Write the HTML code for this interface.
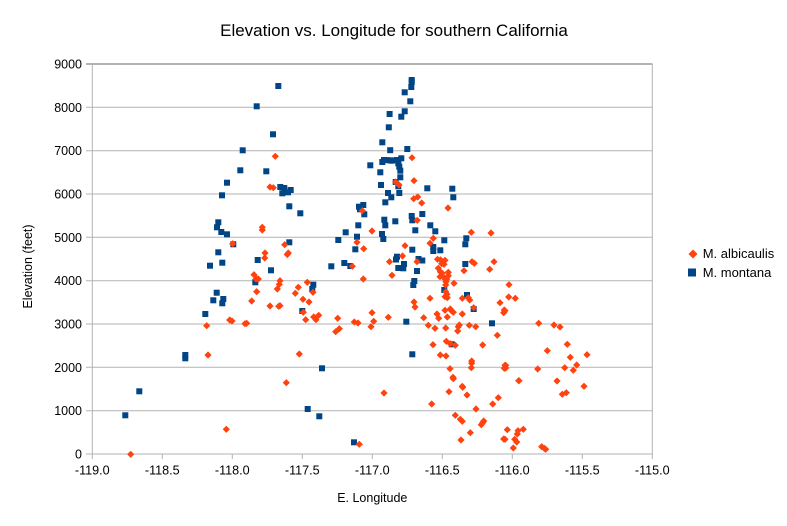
<!DOCTYPE html>
<html><head><meta charset="utf-8"><style>
html,body{margin:0;padding:0;background:#fff;}
svg{display:block;font-family:"Liberation Sans",Arial,sans-serif;}
</style></head><body>
<svg width="787" height="526" viewBox="0 0 787 526" xmlns="http://www.w3.org/2000/svg">
<defs>
<rect id="s" x="-3" y="-3" width="6" height="6" fill="#004586"/>
<polygon id="d" points="0,-3.6 3.6,0 0,3.6 -3.6,0" fill="#ff420e"/>
</defs>
<rect width="787" height="526" fill="#fff"/>
<text x="394" y="36" font-size="17" text-anchor="middle" fill="#000">Elevation vs. Longitude for southern California</text>
<g stroke="#b3b3b3" stroke-width="1">
<line x1="86" y1="64" x2="652.5" y2="64" stroke-width="2"/>
<line x1="86" y1="107.3" x2="652.5" y2="107.3"/>
<line x1="86" y1="150.7" x2="652.5" y2="150.7"/>
<line x1="86" y1="194" x2="652.5" y2="194"/>
<line x1="86" y1="237.3" x2="652.5" y2="237.3"/>
<line x1="86" y1="280.7" x2="652.5" y2="280.7"/>
<line x1="86" y1="324" x2="652.5" y2="324"/>
<line x1="86" y1="367.3" x2="652.5" y2="367.3"/>
<line x1="86" y1="410.7" x2="652.5" y2="410.7"/>
<line x1="86" y1="454" x2="652.5" y2="454"/>
<line x1="92.3" y1="64" x2="92.3" y2="459"/>
<line x1="652.3" y1="64" x2="652.3" y2="459"/>
<line x1="162.3" y1="454" x2="162.3" y2="459"/>
<line x1="232.3" y1="454" x2="232.3" y2="459"/>
<line x1="302.3" y1="454" x2="302.3" y2="459"/>
<line x1="372.3" y1="454" x2="372.3" y2="459"/>
<line x1="442.3" y1="454" x2="442.3" y2="459"/>
<line x1="512.3" y1="454" x2="512.3" y2="459"/>
<line x1="582.3" y1="454" x2="582.3" y2="459"/>
</g>
<g font-size="12.5" fill="#000" text-anchor="end">
<text x="82" y="68.5">9000</text>
<text x="82" y="111.8">8000</text>
<text x="82" y="155.2">7000</text>
<text x="82" y="198.5">6000</text>
<text x="82" y="241.8">5000</text>
<text x="82" y="285.2">4000</text>
<text x="82" y="328.5">3000</text>
<text x="82" y="371.8">2000</text>
<text x="82" y="415.2">1000</text>
<text x="82" y="458.5">0</text>
</g>
<g font-size="12.6" fill="#000" text-anchor="middle">
<text x="92.3" y="474.5">-119.0</text>
<text x="162.3" y="474.5">-118.5</text>
<text x="232.3" y="474.5">-118.0</text>
<text x="302.3" y="474.5">-117.5</text>
<text x="372.3" y="474.5">-117.0</text>
<text x="442.3" y="474.5">-116.5</text>
<text x="512.3" y="474.5">-116.0</text>
<text x="582.3" y="474.5">-115.5</text>
<text x="652.3" y="474.5">-115.0</text>
</g>
<text x="372.3" y="502" font-size="12.5" text-anchor="middle" fill="#000">E. Longitude</text>
<text transform="translate(32,266.5) rotate(-90)" font-size="12.5" text-anchor="middle" fill="#000">Elevation (feet)</text>

<g>
<use href="#s" x="125.3" y="415.3"/><use href="#s" x="139.3" y="391.3"/><use href="#s" x="185.3" y="355"/><use href="#s" x="185.3" y="358.3"/>
<use href="#s" x="205.3" y="314"/><use href="#s" x="210" y="265.7"/><use href="#s" x="213.3" y="300.3"/><use href="#s" x="216.7" y="292.7"/>
<use href="#s" x="218.3" y="222.3"/><use href="#s" x="217" y="227.3"/><use href="#s" x="218.3" y="252.3"/><use href="#s" x="221.3" y="232"/>
<use href="#s" x="222" y="195.3"/><use href="#s" x="222.3" y="262.7"/><use href="#s" x="223.3" y="299"/><use href="#s" x="222.3" y="303.3"/>
<use href="#s" x="227" y="234.3"/><use href="#s" x="227" y="182.7"/><use href="#s" x="233.3" y="244.3"/><use href="#s" x="240.3" y="170.3"/>
<use href="#s" x="242.7" y="150.3"/><use href="#s" x="256.7" y="106.3"/><use href="#s" x="255.3" y="282.3"/><use href="#s" x="257.7" y="260"/>
<use href="#s" x="278.3" y="86"/><use href="#s" x="273" y="134.3"/><use href="#s" x="266.3" y="171.3"/><use href="#s" x="280.3" y="187"/>
<use href="#s" x="284.3" y="188"/><use href="#s" x="282.3" y="193.3"/><use href="#s" x="288" y="192.3"/><use href="#s" x="290.7" y="190"/>
<use href="#s" x="289.3" y="206.3"/><use href="#s" x="300.3" y="213.3"/><use href="#s" x="359" y="206.7"/><use href="#s" x="363.3" y="205"/>
<use href="#s" x="360" y="209.3"/><use href="#s" x="364.3" y="214.3"/><use href="#s" x="384.3" y="219.7"/><use href="#s" x="385.3" y="225.3"/>
<use href="#s" x="358.3" y="225.3"/><use href="#s" x="345.7" y="232.3"/><use href="#s" x="382" y="234"/><use href="#s" x="383.3" y="239"/>
<use href="#s" x="357" y="236.7"/><use href="#s" x="338.3" y="240"/><use href="#s" x="289.3" y="242.3"/><use href="#s" x="355.3" y="249.3"/>
<use href="#s" x="370.3" y="165.3"/><use href="#s" x="380.3" y="172.3"/><use href="#s" x="381" y="185"/><use href="#s" x="388" y="193"/>
<use href="#s" x="385.3" y="202.3"/><use href="#s" x="382.3" y="142.3"/><use href="#s" x="388.8" y="127.3"/><use href="#s" x="389.6" y="114"/>
<use href="#s" x="390.2" y="150.2"/><use href="#s" x="382.3" y="162"/><use href="#s" x="384" y="160"/><use href="#s" x="387" y="160.2"/>
<use href="#s" x="271" y="270.3"/><use href="#s" x="331.3" y="266.3"/><use href="#s" x="344.3" y="263"/><use href="#s" x="350.3" y="266"/>
<use href="#s" x="313.3" y="284.7"/><use href="#s" x="312.3" y="289"/><use href="#s" x="302.3" y="311"/><use href="#s" x="322" y="368.3"/>
<use href="#s" x="307.7" y="409"/><use href="#s" x="319.3" y="416.3"/><use href="#s" x="354" y="442.3"/>
<use href="#s" x="411.7" y="80"/><use href="#s" x="411.7" y="82"/><use href="#s" x="411.3" y="87"/><use href="#s" x="404.7" y="92.3"/>
<use href="#s" x="410.3" y="101.3"/><use href="#s" x="404.7" y="111.3"/><use href="#s" x="401.3" y="116.7"/><use href="#s" x="407.3" y="149"/>
<use href="#s" x="390" y="160.3"/><use href="#s" x="391.7" y="160.7"/><use href="#s" x="396.7" y="160"/><use href="#s" x="398.3" y="160.7"/>
<use href="#s" x="401.3" y="158.3"/><use href="#s" x="398.3" y="163.3"/><use href="#s" x="399.3" y="166.7"/><use href="#s" x="400.3" y="170.7"/>
<use href="#s" x="400.3" y="177.3"/><use href="#s" x="395.7" y="182"/><use href="#s" x="398.3" y="186.3"/><use href="#s" x="427.3" y="188.3"/>
<use href="#s" x="452.3" y="188.7"/><use href="#s" x="391.3" y="197.3"/><use href="#s" x="399.3" y="193"/><use href="#s" x="453.3" y="197.3"/>
<use href="#s" x="411.7" y="216"/><use href="#s" x="412.3" y="220.3"/><use href="#s" x="422.3" y="214"/><use href="#s" x="395.3" y="221.3"/>
<use href="#s" x="430.3" y="225.3"/><use href="#s" x="435.3" y="231.3"/><use href="#s" x="415.3" y="230.3"/><use href="#s" x="444.3" y="240.3"/>
<use href="#s" x="466.3" y="238.3"/><use href="#s" x="465.3" y="244.3"/><use href="#s" x="433.3" y="247"/><use href="#s" x="433.3" y="251"/>
<use href="#s" x="440.3" y="250.3"/><use href="#s" x="412.3" y="249.7"/><use href="#s" x="397" y="256.7"/><use href="#s" x="396" y="259.5"/>
<use href="#s" x="418.5" y="259"/><use href="#s" x="422.3" y="260.5"/><use href="#s" x="404" y="264"/><use href="#s" x="398.3" y="268"/>
<use href="#s" x="403.3" y="268.3"/><use href="#s" x="417" y="271"/><use href="#s" x="465.3" y="264"/><use href="#s" x="414.3" y="281"/>
<use href="#s" x="413.3" y="285"/><use href="#s" x="444.3" y="290"/><use href="#s" x="467" y="295"/><use href="#s" x="473.7" y="309"/>
<use href="#s" x="406.3" y="321.7"/><use href="#s" x="492" y="323.3"/><use href="#s" x="451.7" y="344.3"/><use href="#s" x="412.3" y="354.3"/>
</g>
<g>
<use href="#d" x="130.7" y="454.3"/><use href="#d" x="206.7" y="325.7"/><use href="#d" x="208" y="355"/><use href="#d" x="226.3" y="429.3"/>
<use href="#d" x="229.7" y="320"/><use href="#d" x="232" y="321"/><use href="#d" x="232.7" y="243.7"/><use href="#d" x="245" y="323.7"/>
<use href="#d" x="246.7" y="323.3"/><use href="#d" x="251.7" y="301"/><use href="#d" x="254" y="274.7"/><use href="#d" x="256.7" y="278.7"/>
<use href="#d" x="258.3" y="279"/><use href="#d" x="256" y="279"/><use href="#d" x="256.7" y="291.7"/>
<use href="#d" x="275.3" y="156.3"/><use href="#d" x="270" y="187"/><use href="#d" x="273.3" y="187.7"/><use href="#d" x="362.3" y="210.7"/>
<use href="#d" x="262.3" y="227.3"/><use href="#d" x="262.3" y="230"/><use href="#d" x="372" y="231"/><use href="#d" x="357" y="242.3"/>
<use href="#d" x="284.7" y="244.7"/><use href="#d" x="363.7" y="248.7"/><use href="#d" x="265" y="253"/><use href="#d" x="287.3" y="254.5"/>
<use href="#d" x="288.3" y="253"/><use href="#d" x="264.7" y="258"/>
<use href="#d" x="352.3" y="266.3"/><use href="#d" x="389.5" y="261.7"/><use href="#d" x="280" y="280.7"/><use href="#d" x="279.3" y="284.3"/>
<use href="#d" x="277.3" y="289"/><use href="#d" x="307.3" y="282.3"/><use href="#d" x="298.3" y="287.3"/><use href="#d" x="295.3" y="293.3"/>
<use href="#d" x="313" y="292.3"/><use href="#d" x="303" y="299.3"/><use href="#d" x="309" y="302"/><use href="#d" x="363.3" y="279"/>
<use href="#d" x="270" y="306"/><use href="#d" x="278.7" y="306.3"/><use href="#d" x="280" y="305.7"/><use href="#d" x="303.3" y="312.3"/>
<use href="#d" x="313.7" y="317"/><use href="#d" x="316" y="319.7"/><use href="#d" x="318.7" y="315.3"/><use href="#d" x="305.7" y="319.7"/>
<use href="#d" x="337.7" y="318.3"/><use href="#d" x="372" y="312.7"/><use href="#d" x="388.3" y="317.3"/><use href="#d" x="373.7" y="321.3"/>
<use href="#d" x="354.3" y="322"/><use href="#d" x="358" y="323"/><use href="#d" x="371" y="326.7"/><use href="#d" x="339.3" y="328.7"/>
<use href="#d" x="335.7" y="331.7"/><use href="#d" x="299.3" y="354"/><use href="#d" x="286.3" y="382.7"/><use href="#d" x="384" y="393"/>
<use href="#d" x="359.3" y="444.3"/>
<use href="#d" x="412" y="157.7"/><use href="#d" x="414" y="180.7"/><use href="#d" x="395.7" y="182"/><use href="#d" x="399" y="185"/>
<use href="#d" x="417.7" y="197"/><use href="#d" x="413.7" y="198.7"/><use href="#d" x="421.7" y="203"/><use href="#d" x="448" y="208"/>
<use href="#d" x="417.3" y="220.3"/><use href="#d" x="471.3" y="232.3"/><use href="#d" x="491" y="233"/><use href="#d" x="433.3" y="238.3"/>
<use href="#d" x="430" y="243.3"/><use href="#d" x="405" y="245.7"/><use href="#d" x="402.5" y="256"/><use href="#d" x="437.5" y="259.3"/>
<use href="#d" x="440.5" y="259.8"/>
<use href="#d" x="417" y="261.7"/><use href="#d" x="441.7" y="263.7"/><use href="#d" x="444" y="264.3"/><use href="#d" x="445" y="260.3"/>
<use href="#d" x="438.3" y="268.3"/><use href="#d" x="440.3" y="271.7"/><use href="#d" x="442.3" y="273.3"/><use href="#d" x="440" y="276.7"/>
<use href="#d" x="443.3" y="277.3"/><use href="#d" x="448.3" y="272.3"/><use href="#d" x="448.3" y="275.7"/><use href="#d" x="446.7" y="279.3"/>
<use href="#d" x="446" y="281.7"/><use href="#d" x="445.7" y="285"/><use href="#d" x="472" y="261.7"/><use href="#d" x="474.3" y="263.3"/>
<use href="#d" x="494" y="261.7"/><use href="#d" x="464" y="270.7"/><use href="#d" x="489.7" y="269.3"/><use href="#d" x="392" y="275.3"/>
<use href="#d" x="454" y="283.3"/><use href="#d" x="509" y="284.7"/><use href="#d" x="445.7" y="291.7"/><use href="#d" x="447" y="294.3"/>
<use href="#d" x="445" y="296.7"/><use href="#d" x="447.3" y="297.7"/><use href="#d" x="430" y="298.3"/><use href="#d" x="462.3" y="298.3"/>
<use href="#d" x="468.3" y="297.7"/><use href="#d" x="469.7" y="300"/><use href="#d" x="508.7" y="297"/><use href="#d" x="515.3" y="298.3"/>
<use href="#d" x="414" y="302"/><use href="#d" x="415" y="307"/><use href="#d" x="500" y="302.7"/><use href="#d" x="473.7" y="307.7"/>
<use href="#d" x="445" y="310.3"/><use href="#d" x="450.3" y="309"/><use href="#d" x="451.7" y="311"/><use href="#d" x="453.3" y="312.3"/>
<use href="#d" x="504.3" y="310"/><use href="#d" x="503.7" y="312.7"/><use href="#d" x="437" y="314"/><use href="#d" x="462.3" y="314"/>
<use href="#d" x="438.7" y="318.3"/><use href="#d" x="447.3" y="317"/><use href="#d" x="423.7" y="317.7"/><use href="#d" x="428.3" y="325.3"/>
<use href="#d" x="435" y="328.3"/><use href="#d" x="445.7" y="328"/><use href="#d" x="458.3" y="326.7"/><use href="#d" x="459.3" y="325"/>
<use href="#d" x="457.7" y="331"/><use href="#d" x="469.3" y="325.3"/><use href="#d" x="475.7" y="326.7"/><use href="#d" x="497.3" y="335.3"/>
<use href="#d" x="446.3" y="341.3"/><use href="#d" x="450.3" y="343.7"/><use href="#d" x="455.3" y="345.3"/><use href="#d" x="433" y="344.7"/>
<use href="#d" x="482.7" y="345"/><use href="#d" x="440.3" y="355"/><use href="#d" x="446" y="356"/><use href="#d" x="471.7" y="361"/>
<use href="#d" x="471.7" y="363.3"/><use href="#d" x="471.3" y="367.7"/><use href="#d" x="505" y="365.3"/><use href="#d" x="504.3" y="368.3"/>
<use href="#d" x="450" y="368.7"/><use href="#d" x="453" y="377.3"/><use href="#d" x="453.3" y="378.7"/><use href="#d" x="518.7" y="380.7"/>
<use href="#d" x="462.3" y="386.3"/><use href="#d" x="462.7" y="387.3"/><use href="#d" x="449" y="391.7"/><use href="#d" x="467" y="395"/>
<use href="#d" x="498.3" y="397.7"/><use href="#d" x="431.7" y="404"/><use href="#d" x="492.7" y="404"/><use href="#d" x="476" y="409"/>
<use href="#d" x="455.3" y="415.3"/><use href="#d" x="460.3" y="419.3"/><use href="#d" x="462.3" y="421.3"/><use href="#d" x="483.7" y="421"/>
<use href="#d" x="482.7" y="422.7"/><use href="#d" x="481.3" y="424.7"/><use href="#d" x="507.3" y="429.7"/><use href="#d" x="518" y="430.7"/>
<use href="#d" x="517.3" y="434"/><use href="#d" x="470.3" y="432.7"/><use href="#d" x="461" y="440"/><use href="#d" x="503.7" y="439"/>
<use href="#d" x="514.7" y="439.3"/><use href="#d" x="516.7" y="442"/><use href="#d" x="513.3" y="448"/>
<use href="#d" x="505" y="310.7"/><use href="#d" x="538.7" y="323.3"/><use href="#d" x="554" y="325"/><use href="#d" x="560" y="327"/>
<use href="#d" x="567.3" y="344.3"/><use href="#d" x="547.3" y="350.7"/><use href="#d" x="570.3" y="357.3"/><use href="#d" x="587" y="354.7"/>
<use href="#d" x="576.7" y="365"/><use href="#d" x="505.7" y="365.3"/><use href="#d" x="505.7" y="368"/><use href="#d" x="537.7" y="369"/>
<use href="#d" x="564.7" y="367.7"/><use href="#d" x="573.3" y="370.3"/><use href="#d" x="519" y="380.7"/><use href="#d" x="557" y="381"/>
<use href="#d" x="584" y="386.3"/><use href="#d" x="562.3" y="394.3"/><use href="#d" x="566.3" y="392.7"/><use href="#d" x="523.3" y="429.3"/>
<use href="#d" x="505" y="439.3"/><use href="#d" x="545.7" y="449.3"/><use href="#d" x="544.3" y="448.3"/><use href="#d" x="541.7" y="446.7"/>
</g>

<polygon points="693,249.5 697.5,254 693,258.5 688.5,254" fill="#ff420e"/>
<text x="702.7" y="258" font-size="13" fill="#000">M. albicaulis</text>
<rect x="688" y="268.5" width="8" height="8" fill="#004586"/>
<text x="702.7" y="276.8" font-size="13" fill="#000">M. montana</text>
</svg>
</body></html>
